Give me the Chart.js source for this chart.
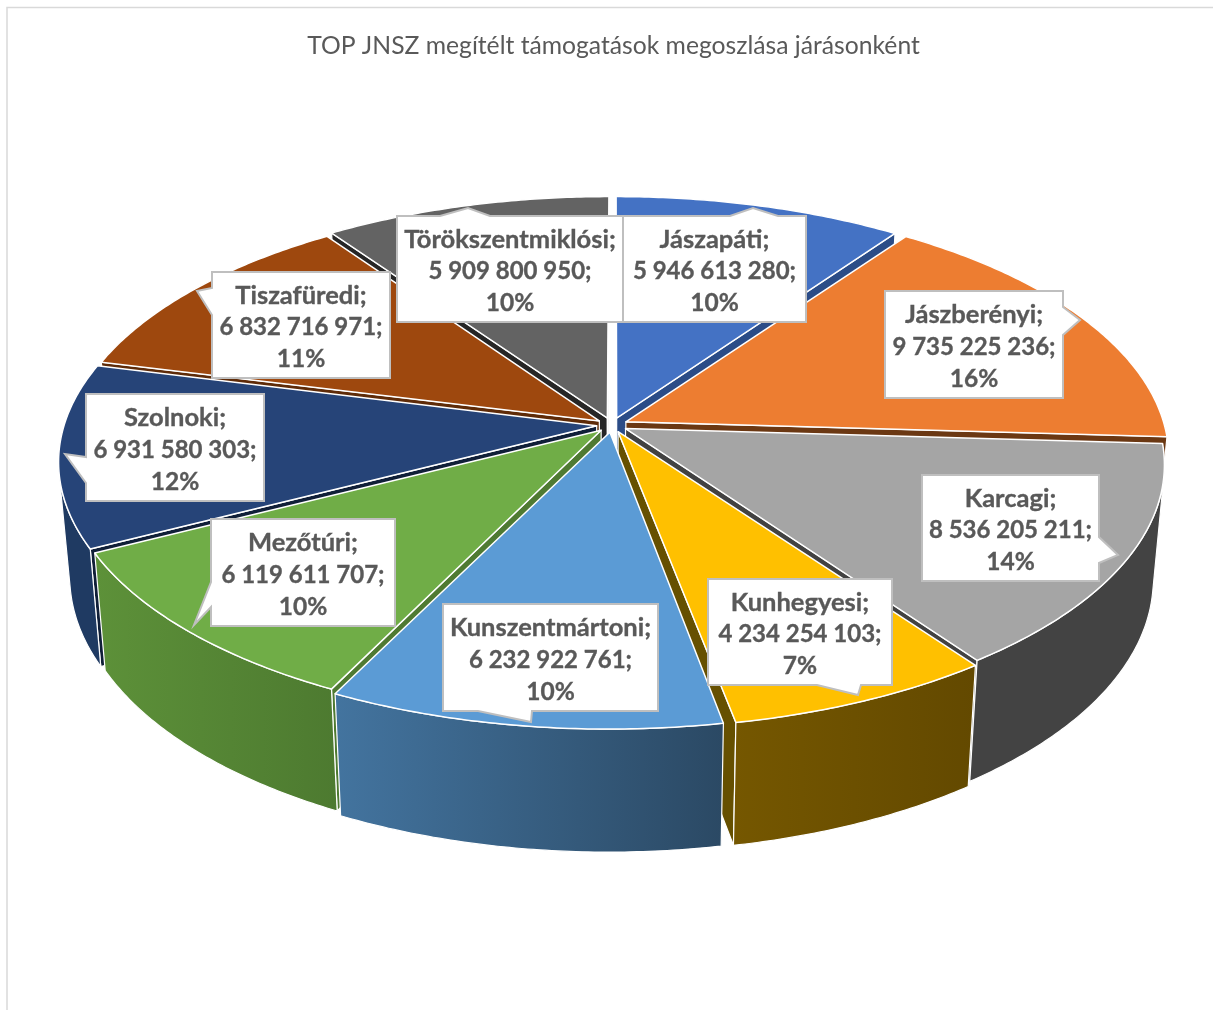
<!DOCTYPE html>
<html><head><meta charset="utf-8">
<style>html,body{margin:0;padding:0;background:#fff}#w{width:1213px;height:1010px}canvas{display:block}</style>
<script src="https://cdn.jsdelivr.net/npm/chart.js@4"></script>
</head><body><div id="w"><canvas id="c" width="1213" height="1010"></canvas></div>
<script>
const titleText = 'TOP JNSZ megítélt támogatások megoszlása járásonként';
const categories = ['Jászapáti','Jászberényi','Karcagi','Kunhegyesi','Kunszentmártoni','Mezőtúri','Szolnoki','Tiszafüredi','Törökszentmiklósi'];
const values = [5946613280,9735225236,8536205211,4234254103,6232922761,6119611707,6931580303,6832716971,5909800950];
const percents = ['10%','16%','14%','7%','10%','10%','12%','11%','10%'];
const valueLabels = ['5 946 613 280;','9 735 225 236;','8 536 205 211;','4 234 254 103;','6 232 922 761;','6 119 611 707;','6 931 580 303;','6 832 716 971;','5 909 800 950;'];
const topColors = ['#4472c4','#ed7d31','#a5a5a5','#ffc000','#5b9bd5','#70ad47','#264478','#9e480e','#636363'];
const cutColors = ['#2b4c87','#6b3813','#424242','#665000','#2b4a66','#4f7a32','#101f38','#5e2b08','#262626'];
const wallLeft  = ['#2f5597','#a85a22','#434343','#755700','#43749f','#5d9139','#1f3a62','#6b3510','#404040'];
const wallRight = ['#2f5597','#a85a22','#434343','#634900','#2b4964','#4d7a30','#1f3a62','#6b3510','#404040'];
// callout boxes: [x0,y0,x1,y1] and pointer polygon [bx0,by0,tipx,tipy,bx1,by1]
const boxes = [[623,216,806,322],[885,291,1063,398],[922,475,1099,581],[708,579,892,685],[443,604,658,711],[211,519,395,626],[86,394,264,501],[212,272,390,378],[397,216,623,322]];
const tips = [[730,216,753,208,778,216],[1063,307,1080,320,1063,335],[1099,537,1118,555,1099,563],[817,685,858,695,861,685],[478,711,531,722,532,711],[211,582,194,625,211,607],[86,457,65,454,86,483],[212,288,197,291,212,315],[440,216,468,208,490,216]];
// small rim corrections per slice (screen pixels), same order as categories
const rimNudge = [[0,0],[2,0],[-4,0],[2,1],[-1,1],[5,-1],[4,0],[4,1],[1,0]];

// camera
const CX=612,CY=425,F=3940,G=1861,D=7.16,R=0.975,E=0.028;
function proj(X,Y,low,n){
  let x=CX+X*F/(D+Y), y=CY-G*Y/(D+Y);
  if(low){x=CX+(x-CX)*0.98; y+=113-10*Y;}
  if(n){x+=n[0];y+=n[1];}
  return [x,y];
}
function area(p){let s=0;for(let i=0;i<p.length;i++){const a=p[i],b=p[(i+1)%p.length];s+=a[0]*b[1]-b[0]*a[1];}return s;}
function poly(ctx,p){ctx.beginPath();p.forEach((q,i)=>i?ctx.lineTo(q[0],q[1]):ctx.moveTo(q[0],q[1]));ctx.closePath();}

class Pie3D extends Chart.PieController{
  draw(){
    const ctx=this.chart.ctx, els=this.getMeta().data;
    const info=els.map((el,i)=>{const a0=el.startAngle+Math.PI/2,a1=el.endAngle+Math.PI/2,m=(a0+a1)/2;return{i,a0,a1,m,Y:Math.cos(m)};});
    info.sort((p,q)=>q.Y-p.Y);
    info.forEach(s=>this.slice3d(ctx,s));
  }
  slice3d(ctx,s){
    const i=s.i, ox=E*Math.sin(s.m), oy=E*Math.cos(s.m), nu=rimNudge[i];
    const w=t=>[ox+R*Math.sin(t),oy+R*Math.cos(t)];
    const n=Math.max(8,Math.ceil((s.a1-s.a0)/0.01));
    const rim=[];for(let k=0;k<=n;k++)rim.push(w(s.a0+(s.a1-s.a0)*k/n));
    const A=[ox,oy];
    ctx.save();ctx.lineJoin='round';
    const sideQuad=(P,Pn,Q,Qn)=>{
      const q=[proj(P[0],P[1],0,Pn),proj(Q[0],Q[1],0,Qn),proj(Q[0],Q[1],1,Qn),proj(P[0],P[1],1,Pn)];
      if(area(q)<0){ctx.fillStyle=cutColors[i];ctx.strokeStyle='#fff';ctx.lineWidth=1.2;poly(ctx,q);ctx.fill();ctx.stroke();}
    };
    sideQuad(A,null,rim[0],nu);
    sideQuad(rim[n],nu,A,null);
    // outer wall, visible run
    let tops=[],bots=[];
    for(let k=0;k<n;k++){
      const a=rim[k],b=rim[k+1];
      const q=[proj(a[0],a[1],0,nu),proj(b[0],b[1],0,nu),proj(b[0],b[1],1,nu),proj(a[0],a[1],1,nu)];
      if(area(q)<0){ if(!tops.length){tops.push(q[0]);bots.push(q[3]);} tops.push(q[1]);bots.push(q[2]); }
    }
    if(tops.length){
      const p=tops.concat(bots.slice().reverse());
      const xs=p.map(v=>v[0]);const x0=Math.min(...xs),x1=Math.max(...xs);
      const g=ctx.createLinearGradient(x0,0,x1,0);g.addColorStop(0,wallLeft[i]);g.addColorStop(1,wallRight[i]);
      ctx.fillStyle=g;ctx.strokeStyle='#fff';ctx.lineWidth=1.2;poly(ctx,p);ctx.fill();ctx.stroke();
    }
    const topP=[proj(A[0],A[1])].concat(rim.map(v=>proj(v[0],v[1],0,nu)));
    ctx.fillStyle=this.getMeta().data[i].options.backgroundColor;ctx.strokeStyle='#fff';ctx.lineWidth=1.5;
    poly(ctx,topP);ctx.fill();ctx.stroke();
    ctx.restore();
  }
}
Pie3D.id='pie3d';
Pie3D.defaults=Chart.PieController.defaults;
Chart.register(Pie3D);

const frame={id:'frame',beforeDraw(ch){const c=ch.ctx;c.save();c.strokeStyle='#d9d9d9';c.lineWidth=1.5;c.beginPath();c.moveTo(7,1010);c.lineTo(7,7.5);c.lineTo(1213,7.5);c.stroke();c.restore();}};
const callouts={id:'callouts',afterDatasetsDraw(ch){
  const c=ch.ctx;c.save();
  c.textAlign='center';c.textBaseline='middle';
  const label=(txt,x,y,size)=>{c.font='bold '+size+'px Lato';c.fillStyle='#595959';c.strokeStyle='#595959';c.lineWidth=0.35;c.fillText(txt,x,y);c.strokeText(txt,x,y);};
  categories.forEach((name,i)=>{
    const [x0,y0,x1,y1]=boxes[i],t=tips[i];
    c.lineJoin='miter';c.fillStyle='#fff';c.strokeStyle='#bfbfbf';c.lineWidth=2;
    let path;
    if(t[1]===y0&&t[5]===y0) path=[[x0,y0],[t[0],y0],[t[2],t[3]],[t[4],y0],[x1,y0],[x1,y1],[x0,y1]];
    else if(t[0]===x1) path=[[x0,y0],[x1,y0],[x1,t[1]],[t[2],t[3]],[x1,t[5]],[x1,y1],[x0,y1]];
    else if(t[1]===y1) path=[[x0,y0],[x1,y0],[x1,y1],[t[4],y1],[t[2],t[3]],[t[0],y1],[x0,y1]];
    else path=[[x0,y0],[x1,y0],[x1,y1],[x0,y1],[x0,t[5]],[t[2],t[3]],[x0,t[1]]];
    poly(c,path);c.fill();c.stroke();
    const cx=(x0+x1)/2, cy=(y0+y1)/2+2.5;
    label(name+';',cx,cy-32,25.5);
    label(valueLabels[i],cx,cy,24);
    label(percents[i],cx,cy+32,24.5);
  });
  c.restore();
}};
new Chart(document.getElementById('c'),{
  type:'pie3d',
  data:{labels:categories,datasets:[{data:values,backgroundColor:topColors}]},
  options:{responsive:false,animation:false,layout:{padding:{left:14}},
    plugins:{legend:{display:false},tooltip:{enabled:false},
      title:{display:true,text:titleText,color:'#595959',font:{family:'Lato',size:24.7,weight:'normal'},padding:{top:31,bottom:10}}}},
  plugins:[frame,callouts]
});
</script></body></html>
